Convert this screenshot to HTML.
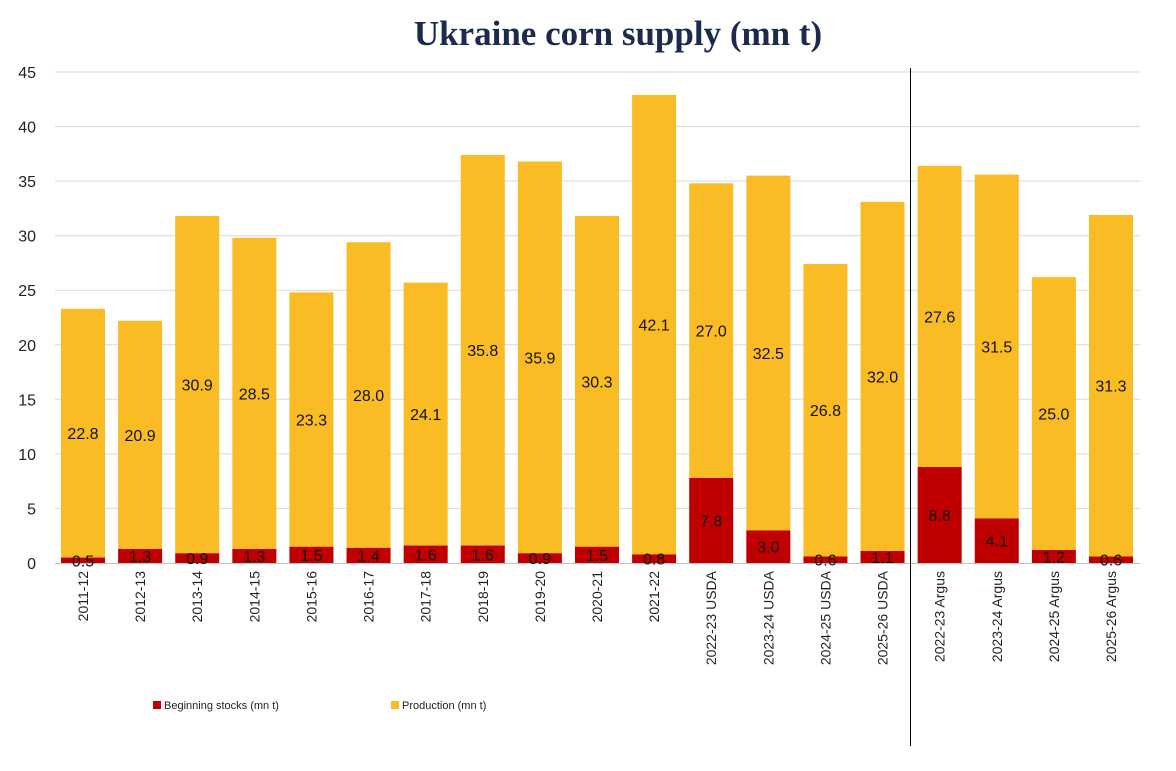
<!DOCTYPE html>
<html><head><meta charset="utf-8">
<style>
html,body{margin:0;padding:0;background:#fff;}
svg{display:block;font-family:"Liberation Sans",sans-serif;}
</style></head>
<body>
<svg id="c" width="1176" height="771" viewBox="0 0 1176 771" xmlns="http://www.w3.org/2000/svg">
<rect width="1176" height="771" fill="#fff"/>
<text x="618" y="45" text-anchor="middle" font-family="'Liberation Serif',serif" font-weight="bold" font-size="35" fill="#1c2a4d">Ukraine corn supply (mn t)</text>
<g id="g"></g>
<line x1="910.5" y1="68" x2="910.5" y2="746" stroke="#000" stroke-width="1"/>
<rect x="153" y="701" width="8" height="8" fill="#c00000"/>
<text x="164" y="709" font-size="11" fill="#222">Beginning stocks (mn t)</text>
<rect x="391" y="701" width="8" height="8" fill="#f9bc25"/>
<text x="402" y="709" font-size="11" fill="#222">Production (mn t)</text>
</svg>
<script>
var d=[["2011-12",0.5,22.8],["2012-13",1.3,20.9],["2013-14",0.9,30.9],["2014-15",1.3,28.5],["2015-16",1.5,23.3],["2016-17",1.4,28.0],["2017-18",1.6,24.1],["2018-19",1.6,35.8],["2019-20",0.9,35.9],["2020-21",1.5,30.3],["2021-22",0.8,42.1],["2022-23 USDA",7.8,27.0],["2023-24 USDA",3.0,32.5],["2024-25 USDA",0.6,26.8],["2025-26 USDA",1.1,32.0],["2022-23 Argus",8.8,27.6],["2023-24 Argus",4.1,31.5],["2024-25 Argus",1.2,25.0],["2025-26 Argus",0.6,31.3]];
var y0=563,k=491/45,s="";
for(var v=0;v<=45;v+=5){var y=(y0-v*k).toFixed(1);
 if(v>0)s+='<line x1="55" x2="1140" y1="'+y+'" y2="'+y+'" stroke="#d9d9d9" stroke-width="1"/>';
 s+='<text x="36" y="'+(+y+6)+'" text-anchor="end" font-size="16" fill="#222">'+v+'</text>';}
s+='<line x1="55" x2="1140" y1="563.5" y2="563.5" stroke="#bfbfbf" stroke-width="1"/>';
for(var i=0;i<d.length;i++){var cx=83+i*57.11,a=d[i][1],b=d[i][2];
 var hs=a*k,hp=b*k;
 s+='<rect x="'+(cx-22)+'" y="'+(y0-hs)+'" width="44" height="'+hs+'" fill="#c00000"/>';
 s+='<rect x="'+(cx-22)+'" y="'+(y0-hs-hp)+'" width="44" height="'+hp+'" fill="#f9bc25"/>';
 s+='<text x="'+cx+'" y="'+(y0-hs-hp/2+6)+'" text-anchor="middle" font-size="16" fill="#111">'+b.toFixed(1)+'</text>';
 s+='<text x="'+cx+'" y="'+(y0-hs/2+6)+'" text-anchor="middle" font-size="16" fill="#111">'+a.toFixed(1)+'</text>';
 s+='<text transform="translate('+(cx+5)+',571) rotate(-90)" text-anchor="end" font-size="14" fill="#222">'+d[i][0]+'</text>';}
document.getElementById("g").innerHTML=s;
</script>
</body></html>
